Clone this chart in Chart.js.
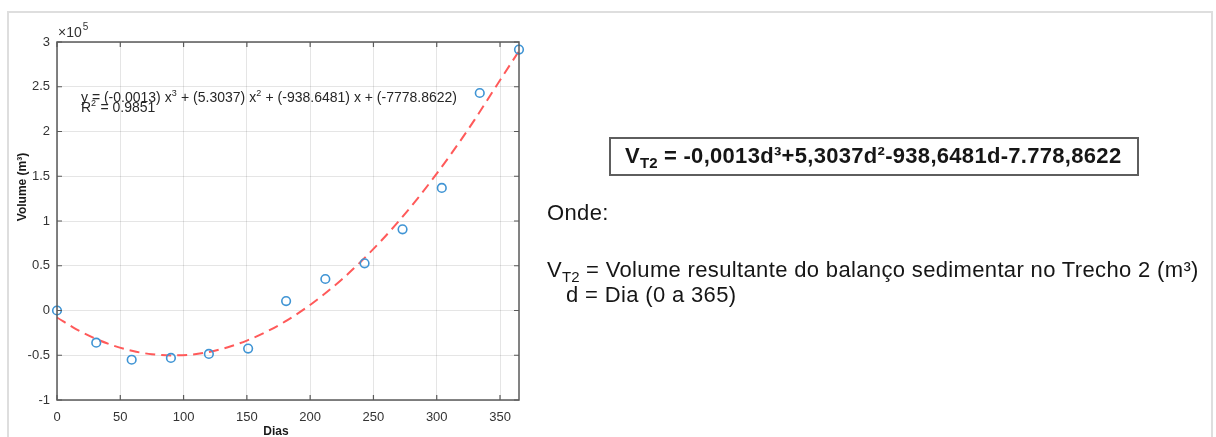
<!DOCTYPE html>
<html>
<head>
<meta charset="utf-8">
<script src="https://cdn.jsdelivr.net/npm/chart.js@4.4.1/dist/chart.umd.min.js"></script>
<style>
  html, body { margin:0; padding:0; background:#fff; width:1216px; height:437px; overflow:hidden; }
  #frame { position:absolute; left:7px; top:11px; width:1206px; height:460px; border:2px solid #dedede; box-sizing:border-box; }
  #c { position:absolute; left:0; top:0; }
  .t { position:absolute; white-space:nowrap; font-family:"Liberation Sans", Arial, sans-serif; color:#161616; font-size:22px; line-height:22px; letter-spacing:0.35px; }
  .t sub { font-size:15px; line-height:0; vertical-align:-5px; letter-spacing:0; }
  #eqbox { position:absolute; left:609px; top:137px; width:530px; height:39px; border:2px solid #5e5e5e; box-sizing:border-box; }
  #eq { font-weight:bold; left:625px; top:145px; letter-spacing:0.3px; }
</style>
</head>
<body>
<div id="frame"></div>
<canvas id="c" width="1216" height="437"></canvas>
<div id="eqbox"></div>
<div class="t" id="eq">V<sub>T2</sub> = -0,0013d³+5,3037d²-938,6481d-7.778,8622</div>
<div class="t" style="left:547px; top:202px;">Onde:</div>
<div class="t" style="left:547px; top:259px;">V<sub>T2</sub> = Volume resultante do balanço sedimentar no Trecho 2 (m³)</div>
<div class="t" style="left:566px; top:284px;">d = Dia (0 a 365)</div>
<script>
// Observed data (days, volume in units of 10^5 m³)
const days = [0, 31, 59, 90, 120, 151, 181, 212, 243, 273, 304, 334, 365];
const volume = [0, -0.36, -0.55, -0.53, -0.485, -0.425, 0.105, 0.352, 0.527, 0.907, 1.37, 2.43, 2.915];
// Fitted cubic trend line (units of 10^5 m³)
const fitDays = [0, 15, 30, 45, 60, 75, 90, 105, 120, 135, 150, 165, 180, 195, 210, 225, 240, 255, 270, 285, 300, 315, 330, 345, 365];
const fitVolume = [-0.078, -0.207, -0.312, -0.394, -0.453, -0.489, -0.502, -0.494, -0.463, -0.410, -0.336, -0.241, -0.125, 0.012, 0.170, 0.347, 0.545, 0.762, 0.998, 1.254, 1.529, 1.822, 2.133, 2.463, 2.90];
// Tick labels
const xTicks = [0, 50, 100, 150, 200, 250, 300, 350];
const yTicks = [-1, -0.5, 0, 0.5, 1, 1.5, 2, 2.5, 3];
const xTitle = 'Dias';
const yTitle = 'Volume (m³)';
const fitLine1 = [['y = (-0.0013) x', false], ['3', true], [' + (5.3037) x', false], ['2', true], [' + (-938.6481) x + (-7778.8622)', false]];
const fitLine2 = [['R', false], ['2', true], [' = 0.9851', false]];

const FONT = '"Liberation Sans", Arial, sans-serif';

const decor = {
  id: 'decor',
  afterDraw(chart) {
    const ctx = chart.ctx;
    const a = chart.chartArea;
    const xs = chart.scales.x, ys = chart.scales.y;
    ctx.save();
    // box
    ctx.strokeStyle = '#5a5a5a';
    ctx.lineWidth = 1.5;
    ctx.strokeRect(a.left, a.top, a.right - a.left, a.bottom - a.top);
    // inward ticks
    ctx.lineWidth = 1.2;
    ctx.beginPath();
    const tl = 5;
    xTicks.forEach(v => {
      const px = xs.getPixelForValue(v);
      ctx.moveTo(px, a.bottom); ctx.lineTo(px, a.bottom - tl);
      ctx.moveTo(px, a.top); ctx.lineTo(px, a.top + tl);
    });
    yTicks.forEach(v => {
      const py = ys.getPixelForValue(v);
      ctx.moveTo(a.left, py); ctx.lineTo(a.left + tl, py);
      ctx.moveTo(a.right, py); ctx.lineTo(a.right - tl, py);
    });
    ctx.stroke();

    // exponent label
    ctx.fillStyle = '#333';
    ctx.textBaseline = 'alphabetic';
    ctx.textAlign = 'left';
    ctx.font = '14px ' + FONT;
    ctx.fillText('×10', a.left + 1, a.top - 5);
    const w10 = ctx.measureText('×10').width;
    ctx.font = '10px ' + FONT;
    ctx.fillText('5', a.left + 1 + w10 + 1, a.top - 12);

    // axis titles
    ctx.fillStyle = '#1a1a1a';
    ctx.font = 'bold 12px ' + FONT;
    ctx.textAlign = 'center';
    ctx.fillText(xTitle, 276, 435);
    ctx.save();
    ctx.translate(26, 187);
    ctx.rotate(-Math.PI / 2);
    ctx.font = 'bold 12px ' + FONT;
    ctx.fillText(yTitle, 0, 0);
    ctx.restore();

    // fit equation
    function drawSegs(segs, x, y) {
      ctx.textAlign = 'left';
      segs.forEach(([s, sup]) => {
        ctx.font = (sup ? '9px ' : '14px ') + FONT;
        ctx.fillText(s, x, sup ? y - 6 : y);
        x += ctx.measureText(s).width + (sup ? 0.5 : 0);
      });
    }
    ctx.fillStyle = '#262626';
    drawSegs(fitLine1, 81, 102);
    drawSegs(fitLine2, 81, 112);
    ctx.restore();
  }
};

new Chart(document.getElementById('c'), {
  type: 'scatter',
  data: {
    datasets: [
      {
        data: fitDays.map((d, i) => ({ x: d, y: fitVolume[i] })),
        showLine: true,
        borderColor: '#ff5a5a',
        borderWidth: 2,
        borderDash: [10, 6],
        pointRadius: 0,
        cubicInterpolationMode: 'monotone',
        fill: false,
        order: 2
      },
      {
        data: days.map((d, i) => ({ x: d, y: volume[i] })),
        showLine: false,
        pointRadius: 4.3,
        pointBorderWidth: 1.6,
        pointBorderColor: '#3f94d4',
        pointBackgroundColor: 'rgba(0,0,0,0)',
        order: 1
      }
    ]
  },
  options: {
    responsive: false,
    animation: false,
    devicePixelRatio: 1,
    clip: false,
    layout: { padding: { left: 0, top: 42, right: 697, bottom: 0 } },
    plugins: { legend: { display: false }, tooltip: { enabled: false } },
    scales: {
      x: {
        type: 'linear', min: 0, max: 365,
        afterBuildTicks: s => { s.ticks = xTicks.map(v => ({ value: v })); },
        afterFit: s => { s.height = 37; },
        grid: { color: 'rgba(0,0,0,0.1)', drawTicks: false },
        border: { display: false },
        ticks: { padding: 10, color: '#333', font: { size: 13, family: FONT }, maxRotation: 0, callback: v => String(v) }
      },
      y: {
        type: 'linear', min: -1, max: 3,
        afterBuildTicks: s => { s.ticks = yTicks.map(v => ({ value: v })); },
        afterFit: s => { s.width = 57; },
        grid: { color: 'rgba(0,0,0,0.1)', drawTicks: false },
        border: { display: false },
        ticks: { padding: 7, color: '#333', font: { size: 13, family: FONT }, callback: v => String(v) }
      }
    }
  },
  plugins: [decor]
});
</script>
</body>
</html>
